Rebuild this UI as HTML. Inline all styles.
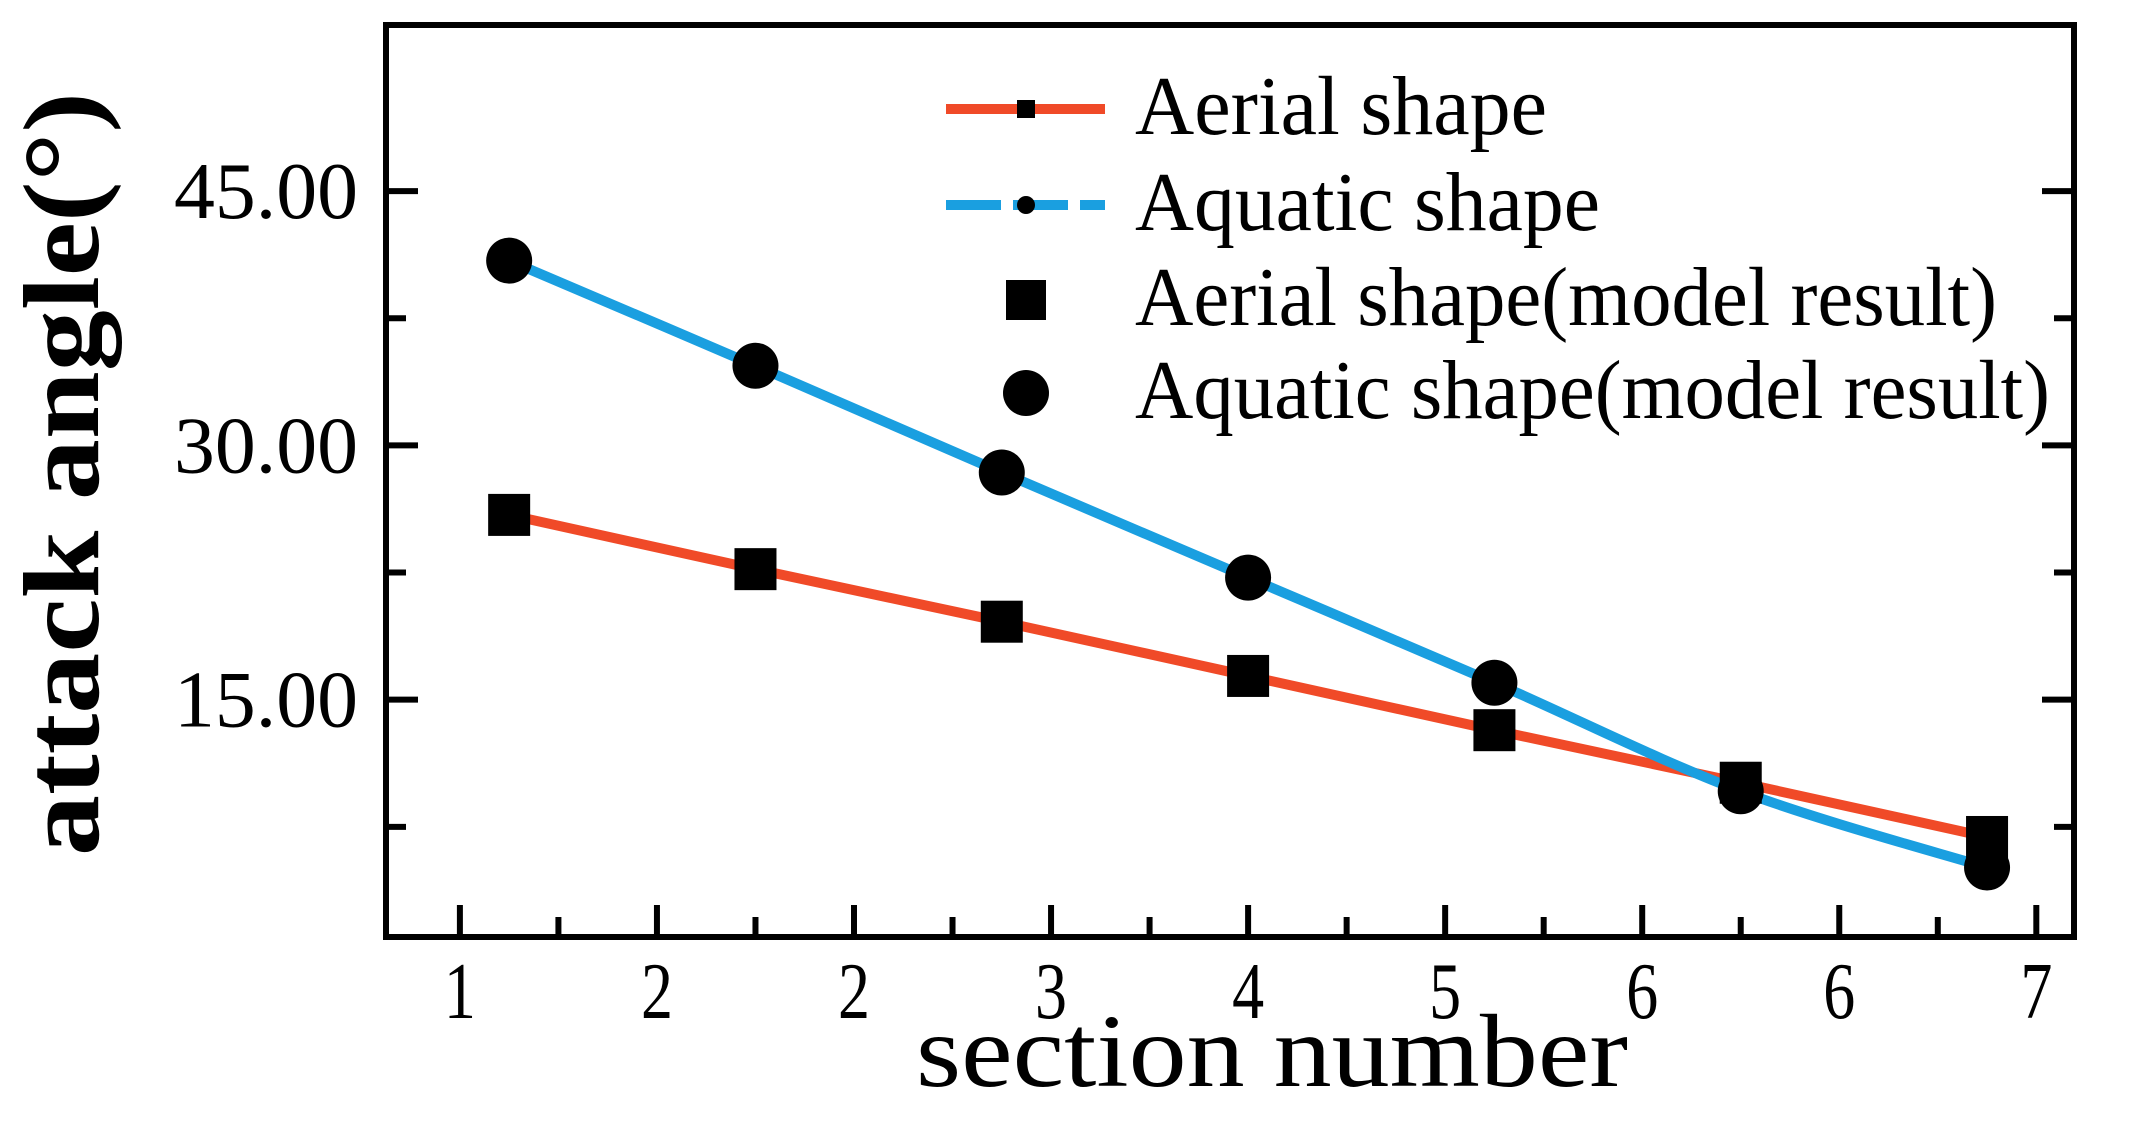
<!DOCTYPE html>
<html><head><meta charset="utf-8"><style>html,body{margin:0;padding:0;background:#fff}svg{display:block}</style></head>
<body>
<svg id="chart" width="2129" height="1148" viewBox="0 0 2129 1148" xmlns="http://www.w3.org/2000/svg" font-family="'Liberation Serif', serif">
<g id="marks"></g>
<g id="axes"></g>
<text x="1272" y="1086" text-anchor="middle" font-size="104" textLength="712" lengthAdjust="spacingAndGlyphs">section number</text>
<text transform="translate(98,474) rotate(-90)" text-anchor="middle" font-size="108" font-weight="bold" textLength="764" lengthAdjust="spacingAndGlyphs">attack angle(°)</text>
<g font-size="84">
  <line x1="946" y1="109" x2="1105" y2="109" stroke="#f04a28" stroke-width="10"/>
  <rect x="1017" y="100" width="18" height="18" fill="#000"/>
  <text x="1135" y="134" textLength="412" lengthAdjust="spacingAndGlyphs">Aerial shape</text>
  <line x1="946" y1="205" x2="1105" y2="205" stroke="#1a9fe0" stroke-width="10" stroke-dasharray="55,12"/>
  <circle cx="1026" cy="205" r="9" fill="#000"/>
  <text x="1135" y="230" textLength="465" lengthAdjust="spacingAndGlyphs">Aquatic shape</text>
  <rect x="1006" y="280" width="40" height="40" fill="#000"/>
  <text x="1135" y="325" textLength="862" lengthAdjust="spacingAndGlyphs">Aerial shape(model result)</text>
  <circle cx="1026" cy="393" r="23" fill="#000"/>
  <text x="1135" y="418" textLength="915" lengthAdjust="spacingAndGlyphs">Aquatic shape(model result)</text>
</g>
</svg>
<script>
const sections = [1, 2, 3, 4, 5, 6, 7];
const aerialValues = [25.9, 22.7, 19.6, 16.4, 13.2, 10.1, 6.9];
const aquaticValues = [40.9, 34.7, 28.4, 22.2, 16.0, 9.6, 5.1];
const yTickValues = [15, 30, 45];
const yTickLabels = ["15.00", "30.00", "45.00"];
const yMinorValues = [7.5, 22.5, 37.5];
const xTickValues = [0.8, 1.6, 2.4, 3.2, 4.0, 4.8, 5.6, 6.4, 7.2];
const xTickLabels = ["1", "2", "2", "3", "4", "5", "6", "6", "7"];

const NS = "http://www.w3.org/2000/svg";
const L = 386, R = 2074, T = 25, B = 937;
const X0 = 0.5, X1 = 7.353, Y0 = 1.0, Y1 = 54.8;
const sx = v => L + (v - X0) / (X1 - X0) * (R - L);
const sy = v => B - (v - Y0) / (Y1 - Y0) * (B - T);
function mk(tag, attrs, parent) { const e = document.createElementNS(NS, tag); for (const k in attrs) e.setAttribute(k, attrs[k]); parent.appendChild(e); return e; }
const axes = document.getElementById('axes');
const marks = document.getElementById('marks');

const frame = mk('rect', {x: L, y: T, width: R - L, height: B - T, fill: 'none', stroke: '#000', 'stroke-width': 6}, axes);



yTickValues.forEach((v, i) => {
  const y = sy(v);
  mk('line', {x1: L, y1: y, x2: L + 32, y2: y, stroke: '#000', 'stroke-width': 6}, axes);
  mk('line', {x1: R, y1: y, x2: R - 32, y2: y, stroke: '#000', 'stroke-width': 6}, axes);
  const t = mk('text', {x: 358, y: y + 27, 'text-anchor': 'end', 'font-size': 80, textLength: 184, lengthAdjust: 'spacingAndGlyphs'}, axes);
  t.textContent = yTickLabels[i];
  
  
});
yMinorValues.forEach(v => {
  const y = sy(v);
  mk('line', {x1: L, y1: y, x2: L + 20, y2: y, stroke: '#000', 'stroke-width': 6}, axes);
  mk('line', {x1: R, y1: y, x2: R - 20, y2: y, stroke: '#000', 'stroke-width': 6}, axes);
});
xTickValues.forEach((v, i) => {
  const x = sx(v);
  mk('line', {x1: x, y1: B, x2: x, y2: B - 32, stroke: '#000', 'stroke-width': 6}, axes);
  if (i < xTickValues.length - 1) {
    const xm = sx(v + 0.4);
    mk('line', {x1: xm, y1: B, x2: xm, y2: B - 20, stroke: '#000', 'stroke-width': 6}, axes);
  }
  const t = mk('text', {x: x, y: 1018, 'text-anchor': 'middle', 'font-size': 80, textLength: 32, lengthAdjust: 'spacingAndGlyphs'}, axes);
  t.textContent = xTickLabels[i];
  
  
});

const aPts = sections.map((s, i) => [sx(s), sy(aerialValues[i])]);
const aerialLine = mk('polyline', {points: aPts.map(p => p.join(',')).join(' '), fill: 'none', stroke: '#f04a28', 'stroke-width': 10}, marks);



const qPts = sections.map((s, i) => [sx(s), sy(aquaticValues[i])]);
let d = 'M' + qPts[0].join(',');
for (let i = 0; i < qPts.length - 1; i++) {
  const p0 = qPts[Math.max(0, i - 1)], p1 = qPts[i], p2 = qPts[i + 1], p3 = qPts[Math.min(qPts.length - 1, i + 2)];
  const c1 = [p1[0] + (p2[0] - p0[0]) / 6, p1[1] + (p2[1] - p0[1]) / 6];
  const c2 = [p2[0] - (p3[0] - p1[0]) / 6, p2[1] - (p3[1] - p1[1]) / 6];
  d += ' C' + c1.join(',') + ' ' + c2.join(',') + ' ' + p2.join(',');
}
const aquaticLine = mk('path', {d: d, fill: 'none', stroke: '#1a9fe0', 'stroke-width': 10}, marks);



aPts.forEach(p => {
  const r = mk('rect', {x: p[0] - 21, y: p[1] - 21, width: 42, height: 42, fill: '#000'}, marks);
  
  
});
qPts.forEach(p => {
  const c = mk('circle', {cx: p[0], cy: p[1], r: 23, fill: '#000'}, marks);
  
  
});
</script>
</body></html>
